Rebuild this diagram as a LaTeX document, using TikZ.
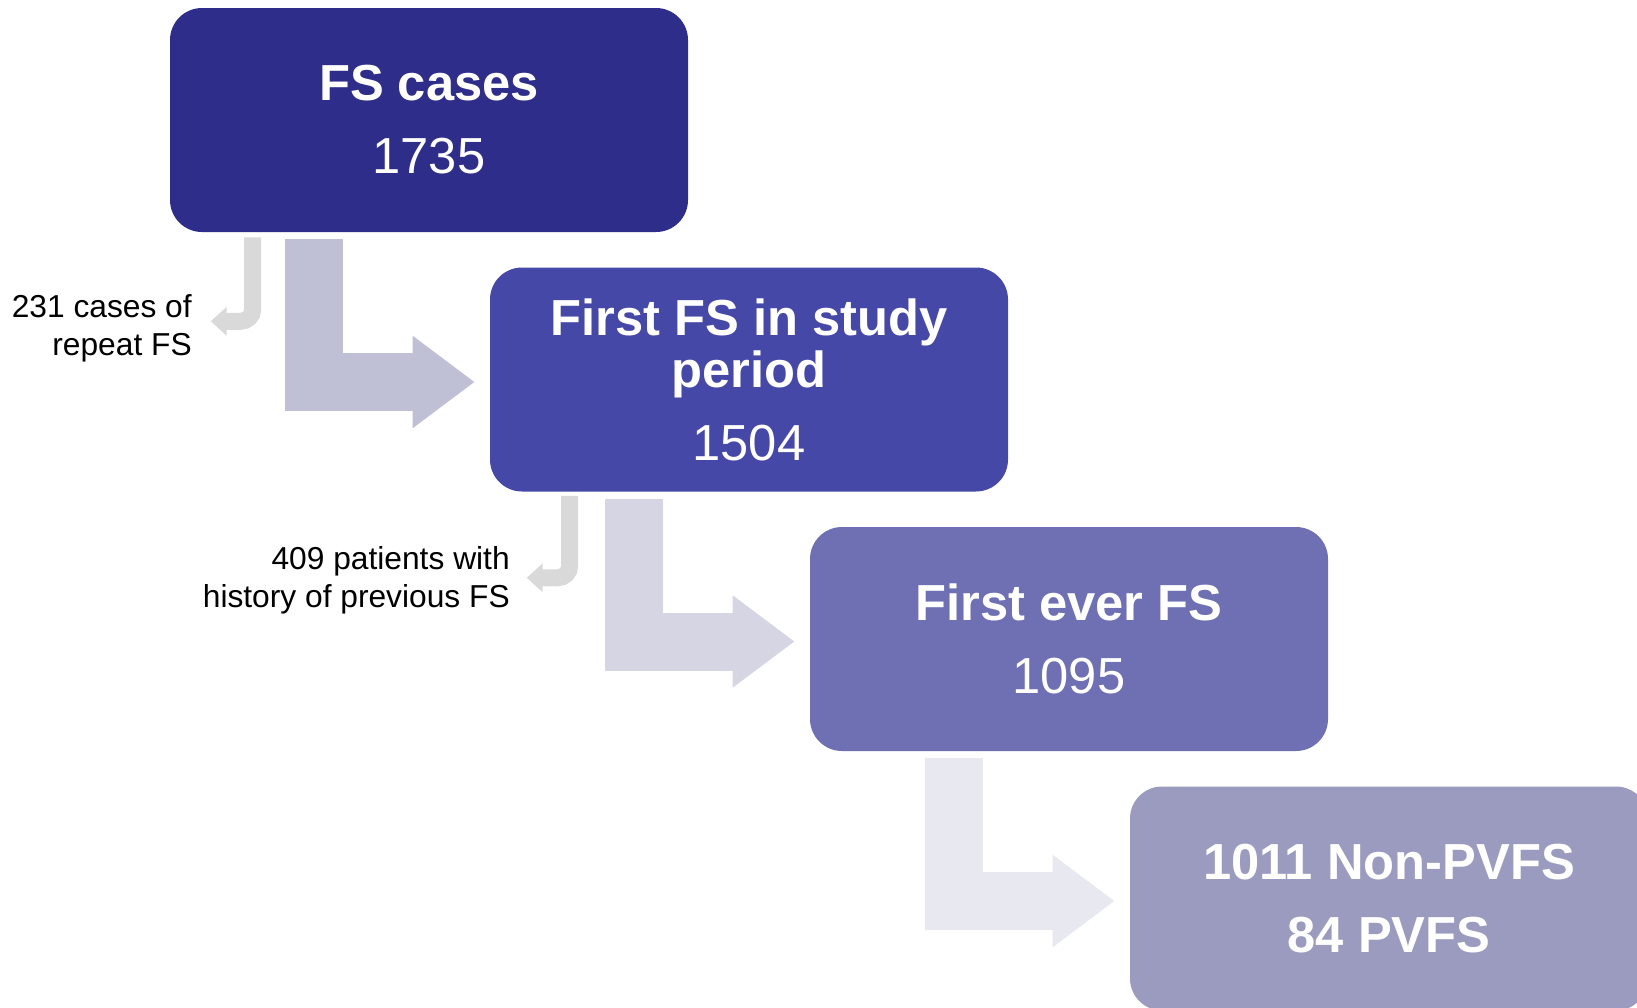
\documentclass[tikz,border=0pt]{standalone}
\usepackage{fontspec}
\setmainfont{Liberation Sans}
\usepackage{tikz}
\usetikzlibrary{calc,arrows.meta}

\definecolor{boxa}{RGB}{46,46,138}
\definecolor{boxb}{RGB}{70,72,168}
\definecolor{boxc}{RGB}{111,112,180}
\definecolor{boxd}{RGB}{155,155,192}
\definecolor{flowa}{RGB}{191,191,214}
\definecolor{flowb}{RGB}{213,213,228}
\definecolor{flowc}{RGB}{232,232,240}
\definecolor{hookgray}{RGB}{217,217,217}

\begin{document}
\begin{tikzpicture}[x=0.75pt,y=0.75pt,yscale=-1,xscale=1,
    fsbox/.style={rectangle, rounded corners=24pt, minimum width=388.5pt, minimum height=168pt,
      inner sep=0pt, text=white, align=center, font=\fontsize{38}{39}\selectfont},
    note/.style={anchor=east, align=right, inner sep=0pt, font=\fontsize{23.8}{28.5}\selectfont},
    bigflow/.style={line width=43.5pt, -{Triangle[length=46.5pt,width=66pt]}},
    hook/.style={draw=hookgray, line width=12.75pt, rounded corners=9pt, -{Triangle[length=12pt,width=21pt]}}]
        \useasboundingbox (0,0) rectangle (1637,1007);
        \clip (0,0) rectangle (1637,1007);

        %Shape: Boxes
        \node [fsbox, fill=boxa] (cases) at (429,120) {\textbf{FS cases}\\[15.75pt]1735};
        \node [fsbox, fill=boxb] (first) at ($(cases)+(320,259.5)$) {\textbf{First FS in study}\\\textbf{period}\\[15.75pt]1504};
        \node [fsbox, fill=boxc] (ever) at ($(first)+(320,259.5)$) {\textbf{First ever FS}\\[15.75pt]1095};
        \node [fsbox, fill=boxd] (pvfs) at ($(ever)+(320,259.5)$) {\textbf{1011 Non-PVFS}\\[15.75pt]\textbf{84 PVFS}};

        %Big bent arrows
        \draw [bigflow, flowa] ($(cases.south west)+(144,7)$) |- ($(first.west)+(-15,2.5)$);
        \draw [bigflow, flowb] ($(first.south west)+(144,7)$) |- ($(ever.west)+(-15,2.5)$);
        \draw [bigflow, flowc] ($(ever.south west)+(144,7)$) |- ($(pvfs.west)+(-15,2.5)$);

        %Small hook arrows
        \coordinate (hookA) at ($(cases.south west)+(83,5)$);
        \coordinate (hookB) at ($(first.south west)+(80,4)$);
        \draw [hook] (hookA) -- ++(0,84) -- ++(-42,0);
        \draw [hook] (hookB) -- ++(0,82) -- ++(-43,0);

        % Text Node
        \node [note] (repeat) at (192,328) {231 cases of\\repeat FS};
        % Text Node
        \node [note] (history) at (510,580) {409 patients with\\history of previous FS};

    \end{tikzpicture}
\end{document}
